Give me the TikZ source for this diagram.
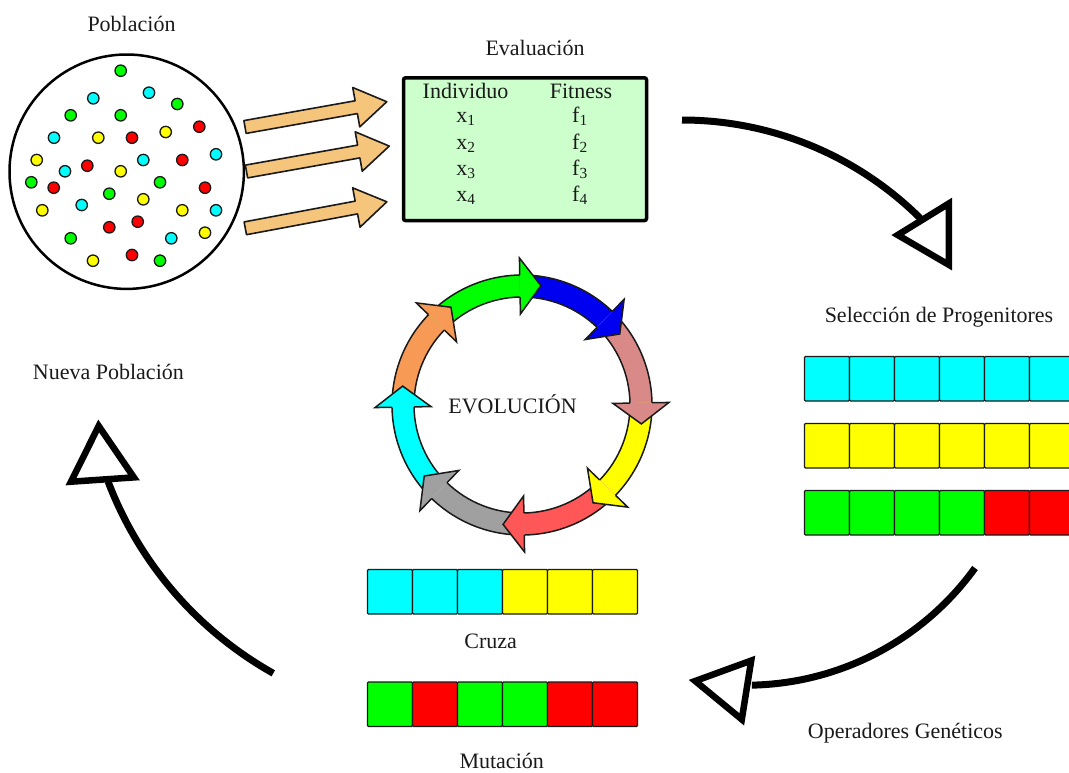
\documentclass[tikz,border=0pt]{standalone}
\usepackage{fontspec}
\setmainfont{Liberation Serif}
\usetikzlibrary{calc}

\definecolor{cCyan}{HTML}{00FFFF}
\definecolor{cYellow}{HTML}{FFFF00}
\definecolor{cGreen}{HTML}{00FF00}
\definecolor{cRed}{HTML}{FF0000}
\definecolor{cBlue}{HTML}{0000F0}
\definecolor{cRose}{HTML}{D98A88}
\definecolor{cSalmon}{HTML}{FF5757}
\definecolor{cGray}{HTML}{A0A0A0}
\definecolor{cOrange}{HTML}{F79A55}
\definecolor{cTan}{HTML}{F6C57C}
\definecolor{cMint}{HTML}{CCFFCC}
\definecolor{ink}{HTML}{1A1A1A}

\begin{document}
\begin{tikzpicture}[x=1pt, y=1pt,
  font=\fontsize{22}{24}\selectfont,
  lbl/.style={inner sep=0, anchor=base, text=ink},
  cell/.style={draw=ink, line width=1.3, rounded corners=1, minimum width=45,
    minimum height=44.5, inner sep=0, outer sep=0, anchor=north west},
  dot/.style={draw=ink, line width=1.3},
  tanarrow/.style={fill=cTan, draw=ink, line width=1.6, line join=round},
  bigarrow/.style={line width=7, black},
  tiphead/.style={draw=black, line width=6.5, fill=white, line join=miter},
  ring/.style={ink, line width=1.5},
]
\useasboundingbox (0,0) rectangle (1069,-772);
\clip (0,0) rectangle (1069,-772);

% ---------- population ----------
\node[lbl] (lblPob) at (131.5,-31) {Población};
\node[circle, draw=black, line width=2.5, minimum size=234.4, inner sep=0] (pop) at (126.7,-171.7) {};
\foreach \x/\y/\c in {
  120.7/70.7/cGreen, 93.3/98.3/cCyan, 149/92.7/cCyan, 177.3/104/cGreen,
  70.7/115.3/cGreen, 120.7/115.3/cGreen, 199.3/126.7/cRed, 54/137.7/cCyan,
  98.3/137.7/cYellow, 132/137.7/cRed, 165.7/132/cYellow, 216/154.3/cCyan,
  36.7/160/cYellow, 87.3/165.7/cRed, 143.3/160/cCyan, 182.3/160/cRed,
  65/171.3/cCyan, 120.7/171.3/cYellow, 31.3/182.3/cGreen, 53.7/187.7/cRed,
  160/182.3/cGreen, 205/187.7/cRed, 109.3/193.7/cGreen, 143.3/199.3/cYellow,
  42.3/210.3/cYellow, 81.7/205/cCyan, 182.3/210.3/cYellow, 216/210.3/cCyan,
  109.3/227.3/cRed, 137.7/221.7/cRed, 70.7/238.3/cGreen, 171.3/238.3/cCyan,
  205/232.7/cYellow, 93/260.7/cYellow, 132/255/cRed, 160/260.7/cGreen}
  \filldraw[dot, fill=\c] (\x,-\y) circle (5.7);

% ---------- block arrows towards the evaluation table ----------
\foreach \x/\y/\a/\l in {245/127/10.1/144, 246.5/171.5/10.1/145, 245.3/228.3/10.6/144}{
  \begin{scope}[shift={(\x,-\y)}, rotate=\a]
    \filldraw[tanarrow] (0,-6.5) -- (\l-31,-6.5) -- (\l-31,-20) -- (\l,0)
      -- (\l-31,20) -- (\l-31,6.5) -- (0,6.5) -- cycle;
  \end{scope}
}

% ---------- evaluation table ----------
\node[lbl] (lblEval) at (535,-55) {Evaluación};
\node[draw=black, line width=3.5, fill=cMint, rounded corners=2,
  minimum width=243, minimum height=142.7, inner sep=0] (evalbox) at (525,-149.2) {};
\node[lbl] (hInd) at (465.5,-98.3) {Individuo};
\node[lbl] (hFit) at (581,-98.3) {Fitness};
\foreach \i in {1,2,3,4}{
  \node[lbl] (x\i) at (466,{-122.7-26.3*(\i-1)}) {x\textsubscript{\i}};
  \node[lbl] (f\i) at (580,{-122.7-26.3*(\i-1)}) {f\textsubscript{\i}};
}

% ---------- selection of parents ----------
\node[lbl] (lblSel) at (939,-322) {Selección de Progenitores};
\foreach \c [count=\j from 0] in {cCyan,cCyan,cCyan,cCyan,cCyan,cCyan}
  \node[cell, fill=\c] (p1-\j) at (804.5+45*\j,-356.5) {};
\foreach \c [count=\j from 0] in {cYellow,cYellow,cYellow,cYellow,cYellow,cYellow}
  \node[cell, fill=\c] (p2-\j) at (804.5+45*\j,-423.5) {};
\foreach \c [count=\j from 0] in {cGreen,cGreen,cGreen,cGreen,cRed,cRed}
  \node[cell, fill=\c] (p3-\j) at (804.5+45*\j,-490.5) {};

% ---------- crossover and mutation ----------
\foreach \c [count=\j from 0] in {cCyan,cCyan,cCyan,cYellow,cYellow,cYellow}
  \node[cell, fill=\c] (cz-\j) at (367.5+45*\j,-569.5) {};
\node[lbl] (lblCruza) at (490.7,-648) {Cruza};
\foreach \c [count=\j from 0] in {cGreen,cRed,cGreen,cGreen,cRed,cRed}
  \node[cell, fill=\c] (mu-\j) at (367.5+45*\j,-682) {};
\node[lbl] (lblMut) at (501.7,-768) {Mutación};

\node[lbl] (lblOps) at (905.3,-738) {Operadores Genéticos};
\node[lbl] (lblNueva) at (108.4,-379.3) {Nueva Población};

% ---------- evolution cycle ----------
\coordinate (evo) at (522,-405);
\foreach \c [count=\i from 0] in {cGreen,cBlue,cRose,cYellow,cSalmon,cGray,cCyan,cOrange}{
  \pgfmathsetmacro\b{91-45*\i}
  \pgfmathsetmacro\t{\b+45}
  \fill[\c] ($(evo)+(\t:130)$) arc[start angle=\t, end angle=\b, radius=130]
    -- ($(evo)+(\b:108)$) arc[start angle=\b, end angle=\t, radius=108] -- cycle;
  \draw[ring] ($(evo)+(\t:130)$) arc[start angle=\t, end angle=\b, radius=130];
  \draw[ring] ($(evo)+(\t:108)$) arc[start angle=\t, end angle=\b, radius=108];
}
\foreach \c [count=\i from 0] in {cGreen,cBlue,cRose,cYellow,cSalmon,cGray,cCyan,cOrange}{
  \pgfmathsetmacro\b{91-45*\i}
  \pgfmathsetmacro\q{\b-90}
  \coordinate (tip) at ($(evo)+(\b:119)+(\q:21)$);
  \fill[\c] ($(evo)+(\b:147)$) -- (tip) -- ($(evo)+(\b:91)$) -- cycle;
  \draw[ring, line join=miter] ($(evo)+(\b:130)$) -- ($(evo)+(\b:147)$) -- (tip)
    -- ($(evo)+(\b:91)$) -- ($(evo)+(\b:108)$);
}
\node[lbl] (lblEvo) at (512.5,-413.3) {EVOLUCIÓN};

% ---------- big cycle arrows ----------
\coordinate (aS) at (682,-120);
\draw[bigarrow] (aS) arc[start angle=90, end angle=45.2, radius=338] coordinate (aE);
\draw[tiphead] (897.7,-235) -- (948.8,-203.5) -- (948.8,-264.8) -- cycle;

\coordinate (bS) at (975,-568);
\draw[bigarrow] (bS) arc[start angle=-35.8, end angle=-88.8, radius=282.4] coordinate (bE);
\draw[tiphead] (695.2,-681) -- (751.2,-660.6) -- (741.8,-719.4) -- cycle;

\coordinate (cS) at (273.3,-673.3);
\draw[bigarrow] (cS) arc[start angle=240.7, end angle=200.8, radius=370.9] coordinate (cE);
\draw[tiphead] (98.7,-426) -- (71,-481.7) -- (133.9,-477.4) -- cycle;
\end{tikzpicture}
\end{document}
